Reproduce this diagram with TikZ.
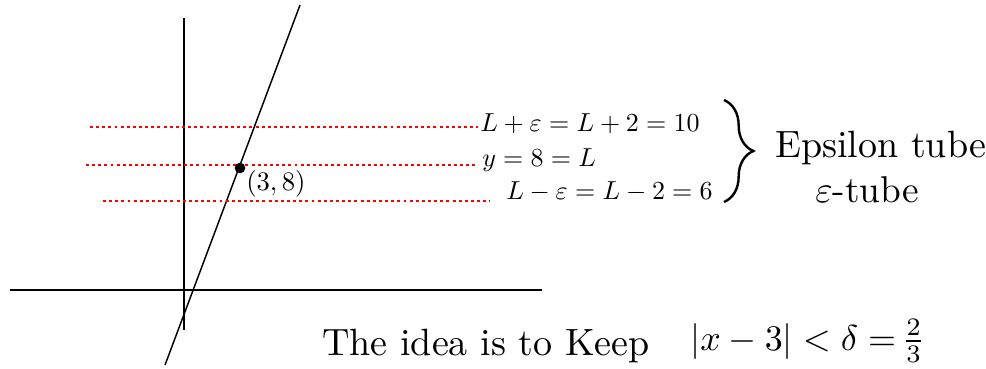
\documentclass[tikz,border=0pt]{standalone}
\usepackage{amsmath}
\usetikzlibrary{decorations.pathreplacing,positioning}
\newcommand{\sz}[2]{\scalebox{#1}{#2}}
\begin{document}
\begin{tikzpicture}[x=0.75pt,y=-0.75pt,
  axis/.style={line width=1.1pt,black},
  tubeline/.style={red,line width=2.2pt,dash pattern=on 2.2pt off 2.4pt},
  hand/.style={inner sep=0pt,anchor=west}]
\useasboundingbox (0,0) rectangle (986,368);
% axes
\coordinate (ytop) at (184,18);
\coordinate (ybot) at (184,330);
\coordinate (xl) at (10,290);
\coordinate (xr) at (542,290);
\draw[axis] (ytop) -- (ybot);
\draw[axis] (xl) -- (xr);
% slanted line
\coordinate (ltop) at (300,5);
\coordinate (lbot) at (165,365);
\draw[axis] (ltop) -- (lbot);
% epsilon tube lines
\coordinate (u1) at (90,127); \coordinate (u2) at (478,127);
\coordinate (m1) at (86,165); \coordinate (m2) at (478,165);
\coordinate (d1) at (103,201); \coordinate (d2) at (490,201);
\draw[tubeline] (u1) -- (u2);
\draw[tubeline] (m1) -- (m2);
\draw[tubeline] (d1) -- (d2);
% point
\node[circle,fill=black,inner sep=0pt,minimum size=8pt] (pt) at (240,168) {};
\node[hand] (ptlabel) at (246,184) {\sz{2.0}{$(3,8)$}};
% labels
\node[hand] (lplus) at (480,124) {\sz{1.95}{$L+\varepsilon=L+2=10$}};
\node[hand] (lmid) at (482,160) {\sz{1.95}{$y=8=L$}};
\node[hand] (lminus) at (506,192) {\sz{1.95}{$L-\varepsilon=L-2=6$}};
\coordinate (btop) at (724,100);
\coordinate (bbot) at (724,202);
\draw[line width=1.8pt,decorate,decoration={brace,amplitude=22pt,aspect=0.5}] (btop) -- (bbot);
\node[hand] (eps1) at (775,148) {\sz{2.85}{Epsilon tube}};
\node[hand] (eps2) at (815,190) {\sz{2.8}{$\varepsilon$-tube}};
\node[hand] (bottom) at (322,346) {\sz{2.85}{The idea is to Keep}};
\node[hand] (cond) at (690,341) {\sz{2.7}{$|x-3|<\delta=$}};
\node[hand,right=4pt of cond.east] (frac) {\sz{2.7}{$\tfrac{2}{3}$}};
\end{tikzpicture}
\end{document}
